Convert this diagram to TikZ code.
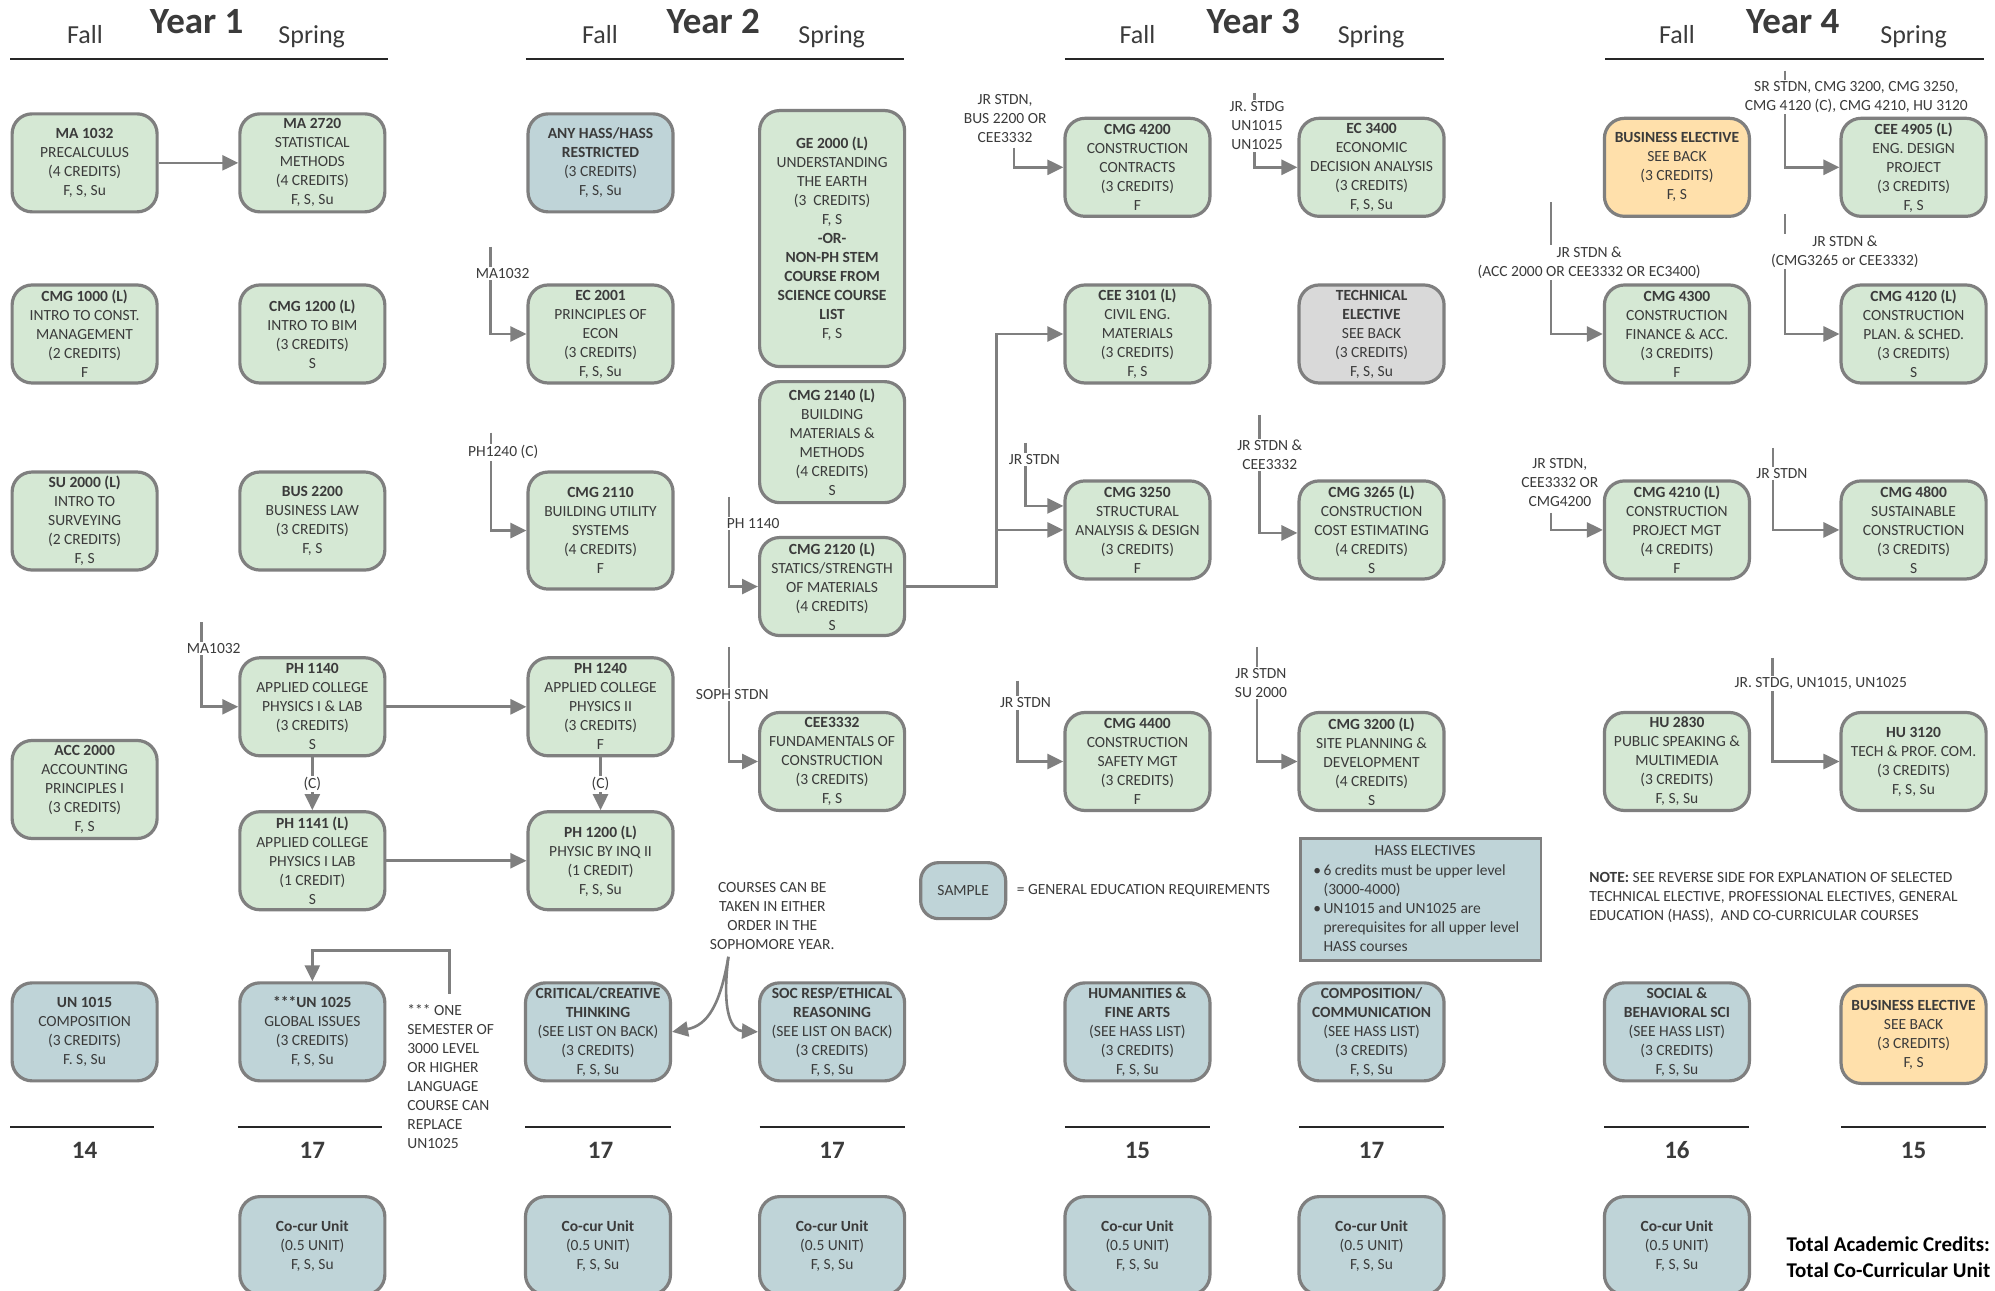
\documentclass[tikz,border=0pt]{standalone}
\usepackage{fontspec}
\setmainfont{Carlito}
\usetikzlibrary{arrows.meta}
\definecolor{cgreen}{HTML}{D5E8D4}
\definecolor{cblue}{HTML}{BFD4D8}
\definecolor{cgray}{HTML}{D9D9D9}
\definecolor{corange}{HTML}{FFE0AB}
\definecolor{bord}{HTML}{7F7F7F}
\definecolor{txt}{HTML}{3B3B3B}
\definecolor{rulec}{HTML}{262626}
\newcommand{\cfnt}{\fontsize{15.5}{19}\selectfont}
\begin{document}
\begin{tikzpicture}[x=1.2723pt,y=-1.2723pt,
 crs/.style={draw=bord, line width=3.2pt, rounded corners=20pt, minimum width=145pt, minimum height=98pt, align=center, inner sep=0pt, text=txt, font=\cfnt},
 crsg/.style={crs, fill=cgreen},
 crsb/.style={crs, fill=cblue},
 crsy/.style={crs, fill=cgray},
 crso/.style={crs, fill=corange},
 arr/.style={draw=bord, line width=2.6pt, -{Triangle[length=16pt,width=15pt]}},
 lbl/.style={fill=white, inner sep=1.5pt, text=txt, font=\cfnt, align=center},
 ptext/.style={inner sep=0pt, text=txt, font=\cfnt},
 hline/.style={draw=rulec, line width=2pt},
 yeartxt/.style={anchor=base, text=txt, font=\fontsize{37}{42}\selectfont\bfseries, inner sep=0pt},
 semtxt/.style={anchor=base, text=txt, font=\fontsize{26}{30}\selectfont, inner sep=0pt},
 totnum/.style={anchor=base, text=txt, font=\fontsize{25}{30}\selectfont\bfseries, inner sep=0pt},
 totline/.style={anchor=base west, inner sep=0pt, font=\fontsize{21}{25}\selectfont\bfseries, text=black},
]
\clip (0,0) rectangle (1568,1014);
\fill[white] (0,0) rectangle (1568,1014);

% headers
\node[yeartxt] (y1) at (154.6,26.5) {Year 1};
\node[semtxt] (f1) at (66.8,34) {Fall};
\node[semtxt] (s1) at (245,34) {Spring};
\draw[hline] (8,46) -- (305,46);
\node[yeartxt] (y2) at (560.6,26.5) {Year 2};
\node[semtxt] (f2) at (471.6,34) {Fall};
\node[semtxt] (s2) at (653.7,34) {Spring};
\draw[hline] (413.4,46) -- (710.5,46);
\node[yeartxt] (y3) at (985,26.5) {Year 3};
\node[semtxt] (f3) at (894,34) {Fall};
\node[semtxt] (s3) at (1077.6,34) {Spring};
\draw[hline] (837,46) -- (1135,46);
\node[yeartxt] (y4) at (1409,26.5) {Year 4};
\node[semtxt] (f4) at (1318,34) {Fall};
\node[semtxt] (s4) at (1504,34) {Spring};
\draw[hline] (1261.5,46) -- (1559.5,46);

% Year 1
\node[crsg] (ma1032) at (66.5,128) {\textbf{MA 1032}\\PRECALCULUS\\(4 CREDITS)\\F, S, Su};
\node[crsg] (ma2720) at (245.5,128) {\textbf{MA 2720}\\STATISTICAL\\METHODS\\(4 CREDITS)\\F, S, Su};
\node[crsg] (cmg1000) at (66.5,262.5) {\textbf{CMG 1000 (L)}\\INTRO TO CONST.\\MANAGEMENT\\(2 CREDITS)\\F};
\node[crsg] (cmg1200) at (245.5,262.5) {\textbf{CMG 1200 (L)}\\INTRO TO BIM\\(3 CREDITS)\\S};
\node[crsg] (su2000) at (66.5,409.5) {\textbf{SU 2000 (L)}\\INTRO TO\\SURVEYING\\(2 CREDITS)\\F, S};
\node[crsg] (bus2200) at (245.5,409.5) {\textbf{BUS 2200}\\BUSINESS LAW\\(3 CREDITS)\\F, S};
\node[crsg] (ph1140) at (245.5,555.5) {\textbf{PH 1140}\\APPLIED COLLEGE\\PHYSICS I \& LAB\\(3 CREDITS)\\S};
\node[crsg] (acc2000) at (66.5,620.5) {\textbf{ACC 2000}\\ACCOUNTING\\PRINCIPLES I\\(3 CREDITS)\\F, S};
\node[crsg] (ph1141) at (245.5,676.5) {\textbf{PH 1141 (L)}\\APPLIED COLLEGE\\PHYSICS I LAB\\(1 CREDIT)\\S};
\node[crsb] (un1015) at (66.5,811) {\textbf{UN 1015}\\COMPOSITION\\(3 CREDITS)\\F. S, Su};
\node[crsb] (un1025) at (245.5,811) {\textbf{***UN 1025}\\GLOBAL ISSUES\\(3 CREDITS)\\F, S, Su};
\node[crsb] (cocur1) at (245.5,979) {\textbf{Co-cur Unit}\\(0.5 UNIT)\\F, S, Su};

% Year 2
\node[crsb] (anyhass) at (472,128) {\textbf{ANY HASS/HASS}\\\textbf{RESTRICTED}\\(3 CREDITS)\\F, S, Su};
\node[crsg] (ec2001) at (472,262.5) {\textbf{EC 2001}\\PRINCIPLES OF\\ECON\\(3 CREDITS)\\F, S, Su};
\node[crsg, minimum height=117pt] (cmg2110) at (472,417) {\textbf{CMG 2110}\\BUILDING UTILITY\\SYSTEMS\\(4 CREDITS)\\F};
\node[crsg] (ph1240) at (472,555.5) {\textbf{PH 1240}\\APPLIED COLLEGE\\PHYSICS II\\(3 CREDITS)\\F};
\node[crsg] (ph1200) at (472,676.5) {\textbf{PH 1200 (L)}\\PHYSIC BY INQ II\\(1 CREDIT)\\F, S, Su};
\node[crsb] (critical) at (470,811) {\textbf{CRITICAL/CREATIVE}\\\textbf{THINKING}\\(SEE LIST ON BACK)\\(3 CREDITS)\\F, S, Su};
\node[crsb] (cocur2) at (470,979) {\textbf{Co-cur Unit}\\(0.5 UNIT)\\F, S, Su};
\node[crsg, minimum height=256pt] (ge2000) at (654,187.5) {\textbf{GE 2000 (L)}\\UNDERSTANDING\\THE EARTH\\(3\ \ CREDITS)\\F, S\\\textbf{-OR-}\\\textbf{NON-PH STEM}\\\textbf{COURSE FROM}\\\textbf{SCIENCE COURSE}\\\textbf{LIST}\\F, S};
\node[crsg, minimum height=121pt] (cmg2140) at (654,347.5) {\textbf{CMG 2140 (L)}\\BUILDING\\MATERIALS \&\\METHODS\\(4 CREDITS)\\S};
\node[crsg] (cmg2120) at (654,461) {\textbf{CMG 2120 (L)}\\STATICS/STRENGTH\\OF MATERIALS\\(4 CREDITS)\\S};
\node[crsg] (cee3332) at (654,598.5) {\textbf{CEE3332}\\FUNDAMENTALS OF\\CONSTRUCTION\\(3 CREDITS)\\F, S};
\node[crsb] (socresp) at (654,811) {\textbf{SOC RESP/ETHICAL}\\\textbf{REASONING}\\(SEE LIST ON BACK)\\(3 CREDITS)\\F, S, Su};
\node[crsb] (cocur3) at (654,979) {\textbf{Co-cur Unit}\\(0.5 UNIT)\\F, S, Su};

% Year 3
\node[crsg] (cmg4200) at (894,131.5) {\textbf{CMG 4200}\\CONSTRUCTION\\CONTRACTS\\(3 CREDITS)\\F};
\node[crsg] (cee3101) at (894,262.5) {\textbf{CEE 3101 (L)}\\CIVIL ENG.\\MATERIALS\\(3 CREDITS)\\F, S};
\node[crsg] (cmg3250) at (894,416.5) {\textbf{CMG 3250}\\STRUCTURAL\\ANALYSIS \& DESIGN\\(3 CREDITS)\\F};
\node[crsg] (cmg4400) at (894,598.5) {\textbf{CMG 4400}\\CONSTRUCTION\\SAFETY MGT\\(3 CREDITS)\\F};
\node[crsb] (hum) at (894,811) {\textbf{HUMANITIES \&}\\\textbf{FINE ARTS}\\(SEE HASS LIST)\\(3 CREDITS)\\F, S, Su};
\node[crsb] (cocur4) at (894,979) {\textbf{Co-cur Unit}\\(0.5 UNIT)\\F, S, Su};
\node[crsg] (ec3400) at (1078,131.5) {\textbf{EC 3400}\\ECONOMIC\\DECISION ANALYSIS\\(3 CREDITS)\\F, S, Su};
\node[crsy] (tech) at (1078,262.5) {\textbf{TECHNICAL}\\\textbf{ELECTIVE}\\SEE BACK\\(3 CREDITS)\\F, S, Su};
\node[crsg] (cmg3265) at (1078,416.5) {\textbf{CMG 3265 (L)}\\CONSTRUCTION\\COST ESTIMATING\\(4 CREDITS)\\S};
\node[crsg] (cmg3200) at (1078,598.5) {\textbf{CMG 3200 (L)}\\SITE PLANNING \&\\DEVELOPMENT\\(4 CREDITS)\\S};
\node[crsb] (comp) at (1078,811) {\textbf{COMPOSITION/}\\\textbf{COMMUNICATION}\\(SEE HASS LIST)\\(3 CREDITS)\\F, S, Su};
\node[crsb] (cocur5) at (1078,979) {\textbf{Co-cur Unit}\\(0.5 UNIT)\\F, S, Su};

% Year 4
\node[crso] (buselec1) at (1318,131.5) {\textbf{BUSINESS ELECTIVE}\\SEE BACK\\(3 CREDITS)\\F, S};
\node[crsg] (cmg4300) at (1318,262.5) {\textbf{CMG 4300}\\CONSTRUCTION\\FINANCE \& ACC.\\(3 CREDITS)\\F};
\node[crsg] (cmg4210) at (1318,416.5) {\textbf{CMG 4210 (L)}\\CONSTRUCTION\\PROJECT MGT\\(4 CREDITS)\\F};
\node[crsg] (hu2830) at (1318,598.5) {\textbf{HU 2830}\\PUBLIC SPEAKING \&\\MULTIMEDIA\\(3 CREDITS)\\F, S, Su};
\node[crsb] (social) at (1318,811) {\textbf{SOCIAL \&}\\\textbf{BEHAVIORAL SCI}\\(SEE HASS LIST)\\(3 CREDITS)\\F, S, Su};
\node[crsb] (cocur6) at (1318,979) {\textbf{Co-cur Unit}\\(0.5 UNIT)\\F, S, Su};
\node[crsg] (cee4905) at (1504,131.5) {\textbf{CEE 4905 (L)}\\ENG. DESIGN\\PROJECT\\(3 CREDITS)\\F, S};
\node[crsg] (cmg4120) at (1504,262.5) {\textbf{CMG 4120 (L)}\\CONSTRUCTION\\PLAN. \& SCHED.\\(3 CREDITS)\\S};
\node[crsg] (cmg4800) at (1504,416.5) {\textbf{CMG 4800}\\SUSTAINABLE\\CONSTRUCTION\\(3 CREDITS)\\S};
\node[crsg] (hu3120) at (1504,598.5) {\textbf{HU 3120}\\TECH \& PROF. COM.\\(3 CREDITS)\\F, S, Su};
\node[crso] (buselec2) at (1504,813) {\textbf{BUSINESS ELECTIVE}\\SEE BACK\\(3 CREDITS)\\F, S};

% direct connectors
\draw[arr] (ma1032) -- (ma2720);
\draw[arr] (ph1140) -- (ph1240);
\draw[arr] (ph1141) -- (ph1200);
\draw[arr] (ph1140) -- (ph1141) node[lbl, midway] (c1) {(C)};
\draw[arr] (ph1240) -- (ph1200) node[lbl, midway] (c2) {(C)};

% prerequisite connectors
\coordinate (q1) at (158.5,489);
\draw[arr] (q1) |- (ph1140.west);
\node[lbl] (l1) at (168,510) {MA1032};
\coordinate (q2) at (385.5,194);
\draw[arr] (q2) |- (ec2001.west);
\node[lbl] (l2) at (395,215) {MA1032};
\coordinate (q3) at (386,340);
\draw[arr] (q3) |- (cmg2110.west);
\node[lbl] (l3) at (395.5,355.5) {PH1240 (C)};
\coordinate (q4) at (573,390.5);
\draw[arr] (q4) |- (cmg2120.west);
\node[lbl] (l4) at (592,411.5) {PH 1140};
\coordinate (q5) at (573,508.5);
\draw[arr] (q5) |- (cee3332.west);
\node[lbl] (l5) at (575.5,546) {SOPH STDN};
\coordinate (q6) at (353.5,781);
\coordinate (q6b) at (353.5,747);
\draw[arr] (q6) -- (q6b) -| (un1025.north);

\coordinate (jt) at (783,262.5);
\coordinate (jb) at (783,416.5);
\draw[arr] (cmg2120.east) -| (jt) -- (cee3101.west);
\draw[arr] (jb) -- (cmg3250.west);

\coordinate (q7) at (797,116);
\draw[arr] (q7) |- (cmg4200.west);
\node[lbl] (l7) at (790,93) {JR STDN,\\BUS 2200 OR\\CEE3332};
\coordinate (q8) at (986,73);
\draw[arr] (q8) |- (ec3400.west);
\node[lbl] (l8) at (988,99) {JR. STDG\\UN1015\\UN1025};
\coordinate (q9) at (806,348);
\draw[arr] (q9) |- ([yshift=24pt]cmg3250.west);
\node[lbl] (l9) at (813,361) {JR STDN};
\coordinate (q10) at (990,326);
\draw[arr] (q10) |- ([yshift=-3pt]cmg3265.west);
\node[lbl] (l10) at (998,357.5) {JR STDN \&\\CEE3332};
\coordinate (q11) at (799.5,535);
\draw[arr] (q11) |- (cmg4400.west);
\node[lbl] (l11) at (806,552.5) {JR STDN};
\coordinate (q12) at (988,508.5);
\draw[arr] (q12) |- (cmg3200.west);
\node[lbl] (l12) at (991,537) {JR STDN\\SU 2000};

\coordinate (q13) at (1403,55.5);
\draw[arr] (q13) |- (cee4905.west);
\node[lbl] (l13) at (1459,76) {SR STDN, CMG 3200, CMG 3250,\\CMG 4120 (C), CMG 4210, HU 3120};
\coordinate (q14) at (1219,159);
\draw[arr] (q14) |- (cmg4300.west);
\node[lbl] (l14) at (1249,206.5) {JR STDN \&\\(ACC 2000 OR CEE3332 OR EC3400)};
\coordinate (q15) at (1403,168.5);
\draw[arr] (q15) |- (cmg4120.west);
\node[lbl] (l15) at (1450,197.5) {JR STDN \&\\(CMG3265 or CEE3332)};
\coordinate (q16) at (1219,403);
\draw[arr] (q16) |- (cmg4210.west);
\node[lbl] (l16) at (1226,379.5) {JR STDN,\\CEE3332 OR\\CMG4200};
\coordinate (q17) at (1393.5,352);
\draw[arr] (q17) |- (cmg4800.west);
\node[lbl] (l17) at (1400.5,372) {JR STDN};
\coordinate (q18) at (1393,517);
\draw[arr] (q18) |- (hu3120.west);
\node[lbl] (l18) at (1431,537.5) {JR. STDG, UN1015, UN1025};

% either-order note with curved arrows
\node[ptext, align=center] (either) at (607,720) {COURSES CAN BE\\TAKEN IN EITHER\\ORDER IN THE\\SOPHOMORE YEAR.};
\coordinate (cn) at (572.5,752);
\draw[arr] (cn) .. controls (566,790) and (556,806) .. (critical.east);
\draw[arr] (cn) .. controls (567,796) and (575,810) .. (socresp.west);

% notes
\node[ptext, anchor=west, align=left] (onesem) at (320,846.5) {*** ONE\\SEMESTER OF\\3000 LEVEL\\OR HIGHER\\LANGUAGE\\COURSE CAN\\REPLACE\\UN1025};
\node[crsb, minimum width=85pt, minimum height=56pt, rounded corners=18pt] (sample) at (757,700) {SAMPLE};
\node[ptext, anchor=west] (geneq) at (799,700) {= GENERAL EDUCATION REQUIREMENTS};
\node[draw=bord, fill=cblue, line width=2.5pt, minimum width=240.5pt, minimum height=122pt, inner sep=0pt] (hass) at (1116.5,707) {};
\node[ptext] (hasst) at (1120,668.5) {HASS ELECTIVES};
\node[ptext, anchor=west, align=left] (hassl) at (1032,713.5) {\textbullet\,6 credits must be upper level\\\phantom{\textbullet\,}(3000-4000)\\\textbullet\,UN1015 and UN1025 are\\\phantom{\textbullet\,}prerequisites for all upper level\\\phantom{\textbullet\,}HASS courses};
\node[ptext, anchor=west, align=left] (note) at (1249,705) {\textbf{NOTE:} SEE REVERSE SIDE FOR EXPLANATION OF SELECTED\\TECHNICAL ELECTIVE, PROFESSIONAL ELECTIVES, GENERAL\\EDUCATION (HASS),\ \ AND CO-CURRICULAR COURSES};

% totals
\foreach \c/\a/\b/\n [count=\i] in {66.5/8/121/14, 245.5/187/300/17, 472/413/527/17, 654/597/711/17, 894/837/951/15, 1078/1021/1135/17, 1318/1261/1375/16, 1504/1447/1561/15} {
  \draw[hline] (\a,885.5) -- (\b,885.5);
  \node[totnum] (tot\i) at (\c,910.5) {\n};
}
\node[totline] (tac) at (1404,983.5) {Total Academic Credits:};
\node[totline] (tcc) at (1404,1004) {Total Co-Curricular Unit};
\end{tikzpicture}
\end{document}
